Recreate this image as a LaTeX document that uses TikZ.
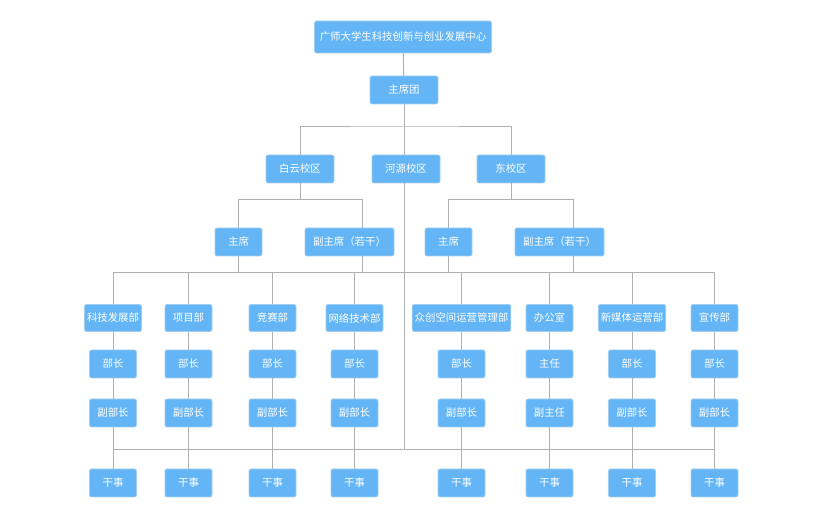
\documentclass[tikz,border=0pt]{standalone}
\usepackage{fontspec}
\newfontfamily\cjk{Noto Sans CJK SC}
\usepackage{xcolor}
\usepackage{tikz}
\definecolor{boxblue}{HTML}{64B5F6}
\definecolor{boxedge}{HTML}{A3CDEF}
\definecolor{linkgray}{HTML}{B0B0B0}

\begin{document}
\begin{tikzpicture}[x=1pt,y=-1pt,
  box/.style={fill=boxblue, draw=boxedge, line width=0.8pt, rounded corners=2pt,
    text=white, font=\cjk\fontsize{10.4}{12}\selectfont,
    minimum width=47pt, minimum height=28pt, inner xsep=2.5pt, inner ysep=0pt},
  link/.style={draw=linkgray, line width=1pt}]
\useasboundingbox (0,0) rectangle (831,521);
% top of the tree
\node[box, minimum width=177pt, minimum height=32pt] (top) at (403,37) {广师大学生科技创新与创业发展中心};
\node[box, minimum width=68pt] (pres) at (404,90) {主席团};
\node[box, minimum width=68pt] (by) at (300,169) {白云校区};
\node[box, minimum width=68pt] (hy) at (406,169) {河源校区};
\node[box, minimum width=68pt] (dx) at (511,169) {东校区};
\node[box] (byc) at (238.5,242) {主席};
\node[box, minimum width=89pt] (byv) at (349.5,242) {副主席（若干）};
\node[box] (dxc) at (448.5,242) {主席};
\node[box, minimum width=89pt] (dxv) at (559.5,242) {副主席（若干）};
\coordinate (j1) at (404,127);
\coordinate (barT) at (404,273);
\coordinate (barB) at (404,450);
\coordinate (byl) at ([xshift=12.5pt]byv.south);
\coordinate (dxl) at ([xshift=13.5pt]dxv.south);
% departments
\foreach \x/\d/\h/\v [count=\i] in {113/科技发展部/部长/副部长, 188.5/项目部/部长/副部长,
    272.5/竞赛部/部长/副部长, 354.5/网络技术部/部长/副部长, 461.5/众创空间运营管理部/部长/副部长,
    549.5/办公室/主任/副主任, 632/新媒体运营部/部长/副部长, 714.5/宣传部/部长/副部长}{
  \node[box, minimum height=27pt] (d\i) at (\x,318) {\d};
  \node[box] (h\i) at (\x,364) {\h};
  \node[box] (v\i) at (\x,413) {\v};
  \node[box] (g\i) at (\x,483) {干事};
  \draw[link] (d\i.north |- barT) -- (d\i.north);
  \draw[link] (d\i) -- (h\i) -- (v\i) -- (g\i);
}
% connectors
\draw[link] (top) -- (pres);
\draw[link] (pres.south -| j1) -- (hy.north -| j1);
\draw[link] (by) |- (j1) -| (dx);
\draw[link] (byc) |- ([yshift=-16pt]by.south) -| ([xshift=12.5pt]byv.north);
\draw[link] (by) -- ([yshift=-16pt]by.south);
\draw[link] (dxc) |- ([yshift=-16pt]dx.south) -| ([xshift=13.5pt]dxv.north);
\draw[link] (dx) -- ([yshift=-16pt]dx.south);
\draw[link] (byc) -- (byc |- barT);
\draw[link] (byl) -- (byl |- barT);
\draw[link] (dxc) -- (dxc |- barT);
\draw[link] (dxl) -- (dxl |- barT);
\draw[link] (hy.south -| barT) -- (barB);
\draw[link] (d1.north |- barT) -- (d8.north |- barT);
\draw[link] (v1 |- barB) -- (v8 |- barB);
\end{tikzpicture}
\end{document}
